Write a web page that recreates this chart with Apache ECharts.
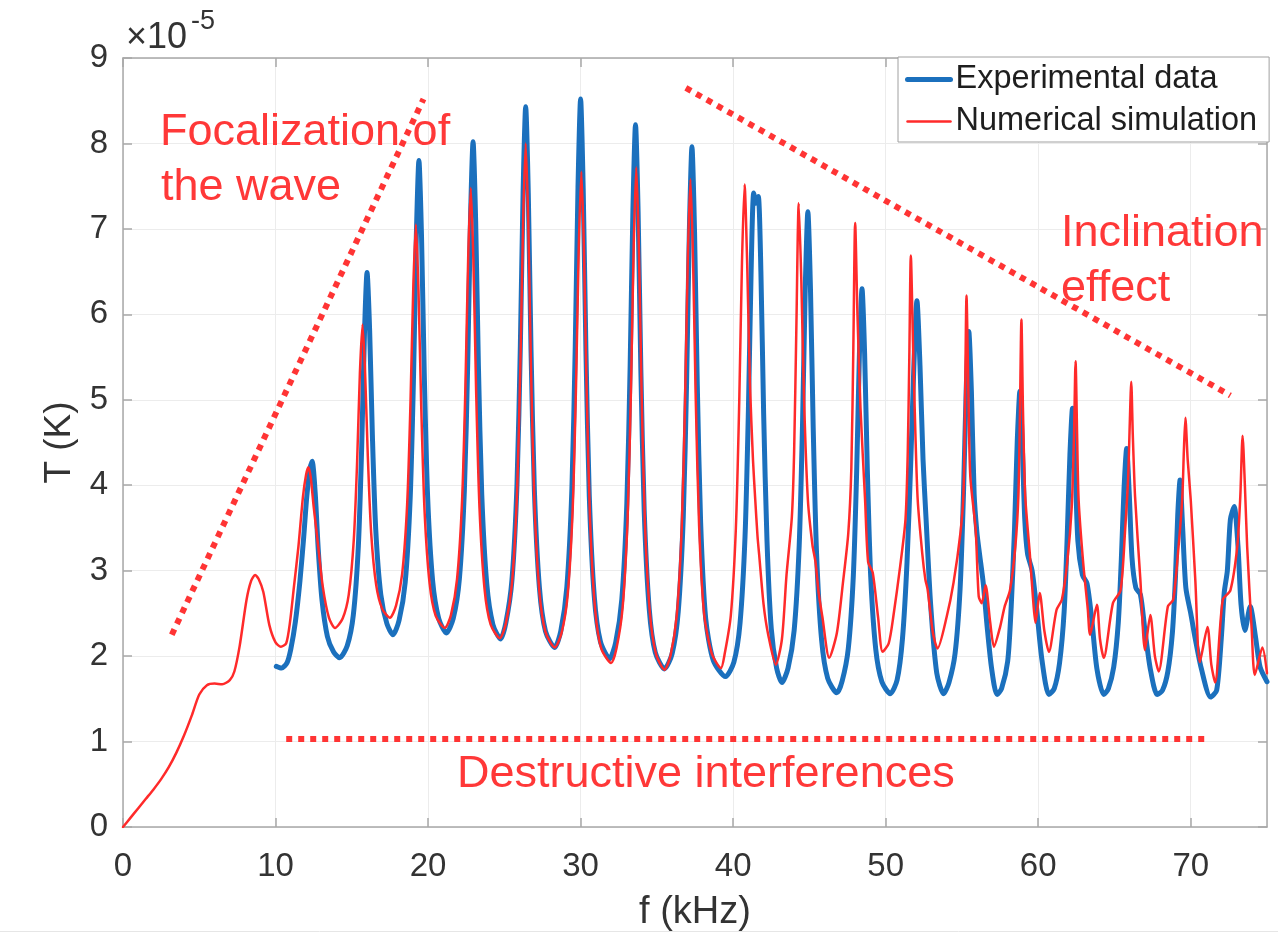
<!DOCTYPE html>
<html>
<head>
<meta charset="utf-8">
<script src="https://cdn.jsdelivr.net/npm/echarts@6/dist/echarts.min.js"></script>
<style>
html,body{margin:0;padding:0;background:#fff;}
#chart{width:1278px;height:933px;}
</style>
</head>
<body>
<div id="chart"></div>
<script>
// ---- Data (f in kHz, T in 1e-5 K) ----
const seriesNames = ['Experimental data', 'Numerical simulation'];

const experimentalData = [
[10.05,1.88],[10.4,1.86],[10.75,1.92],[11,2.08],[11.3,2.4],[11.6,2.88],[11.85,3.4],[12.05,3.87],[12.25,4.18],[12.4,4.28],[12.6,3.91],[12.8,3.25],[13.05,2.65],[13.4,2.23],[13.8,2.05],[14.2,1.98],
[14.7,2.12],[15.1,2.48],[15.43,3.29],[15.65,4.46],[15.83,5.77],[16,6.49],[16.17,5.81],[16.35,4.58],[16.57,3.48],[16.9,2.72],[17.3,2.38],[17.7,2.25],
[18.1,2.42],[18.5,2.86],[18.83,3.86],[19.05,5.3],[19.23,6.91],[19.4,7.8],[19.57,6.92],[19.75,5.31],[19.97,3.87],[20.3,2.88],[20.7,2.44],[21.2,2.27],
[21.65,2.44],[22.05,2.9],[22.38,3.94],[22.6,5.43],[22.78,7.1],[22.95,8.02],[23.12,7.09],[23.3,5.4],[23.52,3.89],[23.85,2.84],[24.25,2.37],[24.75,2.2],
[25.1,2.39],[25.5,2.89],[25.83,4.01],[26.05,5.63],[26.23,7.43],[26.4,8.43],[26.57,7.42],[26.75,5.58],[26.97,3.94],[27.3,2.8],[27.7,2.29],[28.3,2.1],
[28.7,2.29],[29.1,2.81],[29.43,3.96],[29.65,5.63],[29.83,7.49],[30,8.52],[30.17,7.47],[30.35,5.57],[30.57,3.87],[30.9,2.69],[31.3,2.17],[31.9,1.97],
[32.3,2.16],[32.7,2.66],[33.03,3.78],[33.25,5.41],[33.43,7.22],[33.6,8.22],[33.77,7.2],[33.95,5.35],[34.17,3.7],[34.5,2.55],[34.9,2.04],[35.5,1.85],
[36,2.03],[36.4,2.52],[36.73,3.62],[36.95,5.21],[37.13,6.98],[37.3,7.96],[37.47,6.97],[37.65,5.17],[37.87,3.56],[38.2,2.44],[38.7,1.95],[39.5,1.76],
[40.05,1.93],[40.45,2.38],[40.78,3.4],[41,4.87],[41.18,6.51],[41.35,7.42],[41.5,7.3],[41.65,7.38],[41.82,6.5],[42,4.84],[42.22,3.35],[42.5,2.32],[42.85,1.86],[43.2,1.69],
[43.6,1.86],[44,2.3],[44.33,3.29],[44.55,4.72],[44.73,6.32],[44.9,7.2],[45.07,6.3],[45.25,4.67],[45.47,3.2],[45.8,2.19],[46.2,1.74],[46.8,1.57],
[47.15,1.71],[47.55,2.09],[47.88,2.94],[48.1,4.17],[48.28,5.54],[48.45,6.3],[48.62,5.54],[48.8,4.17],[49.02,2.93],[49.35,2.08],[49.75,1.7],[50.3,1.56],
[50.75,1.72],[51.1,2.2],[51.4,3.1],[51.65,4.3],[51.85,5.4],[52.05,6.16],[52.25,5.4],[52.45,4.3],[52.65,3.6],[52.95,2.6],[53.35,1.8],[53.8,1.56],
[54.15,1.69],[54.55,2.03],[54.88,2.79],[55.1,3.89],[55.28,5.12],[55.45,5.8],[55.62,5.1],[55.8,3.9],[55.98,3.45],[56.15,3.2],[56.4,2.85],[56.65,2.35],[56.95,1.85],[57.3,1.55],
[57.6,1.62],[58,1.94],[58.23,2.58],[58.45,3.5],[58.63,4.53],[58.8,5.1],[58.97,4.4],[59.12,3.6],[59.3,3.2],[59.6,3.0],[59.9,2.55],[60.25,1.95],[60.7,1.55],
[61.05,1.62],[61.4,1.92],[61.7,2.52],[61.9,3.39],[62.08,4.36],[62.25,4.9],[62.42,4.3],[62.6,3.35],[62.9,2.95],[63.2,2.85],[63.5,2.45],[63.85,1.85],[64.3,1.55],
[64.6,1.62],[64.95,1.87],[65.25,2.39],[65.45,3.13],[65.63,3.97],[65.8,4.43],[65.97,3.9],[66.15,3.15],[66.4,2.8],[66.7,2.72],[67,2.3],[67.35,1.85],[67.8,1.55],
[68.15,1.6],[68.5,1.82],[68.8,2.28],[69,2.93],[69.15,3.66],[69.3,4.06],[69.47,3.5],[69.68,2.8],[70,2.5],[70.3,2.2],[70.7,1.85],[71.3,1.52],
[71.7,1.6],[72,2.2],[72.2,2.75],[72.4,3.0],[72.6,3.6],[72.85,3.75],[73.1,3.28],[73.3,2.6],[73.55,2.3],[73.9,2.58],[74.25,2.22],[74.55,1.87],[75,1.7]
];

const simulationData = [
[0,0],[0.5,0.11],[1,0.22],[1.5,0.33],[2,0.44],[2.5,0.56],[3,0.7],[3.5,0.87],[4,1.07],[4.5,1.3],[5,1.55],[5.5,1.66],[6,1.68],[6.5,1.67],[7,1.72],[7.3,1.82],[7.65,2.12],[8.1,2.66],[8.4,2.88],[8.66,2.95],[8.9,2.9],[9.2,2.75],[9.6,2.36],[10,2.16],[10.35,2.11],
[10.7,2.15],[10.95,2.4],[11.2,2.8],[11.5,3.28],[11.8,3.87],[12,4.12],[12.15,4.21],[12.3,4.1],[12.5,3.75],[12.8,3.28],[13.1,2.81],[13.5,2.45],[13.9,2.33],
[14.4,2.44],[14.8,2.72],[15.13,3.36],[15.35,4.28],[15.53,5.31],[15.7,5.88],[15.87,5.33],[16.05,4.34],[16.27,3.44],[16.6,2.83],[17,2.55],[17.5,2.45],
[17.9,2.59],[18.3,2.96],[18.63,3.78],[18.85,4.98],[19.03,6.31],[19.2,7.05],[19.37,6.29],[19.55,4.93],[19.77,3.7],[20.1,2.85],[20.5,2.47],[21.1,2.33],
[21.5,2.48],[21.9,2.9],[22.23,3.82],[22.45,5.16],[22.63,6.66],[22.8,7.48],[22.97,6.64],[23.15,5.11],[23.37,3.74],[23.7,2.79],[24.1,2.37],[24.7,2.21],
[25.1,2.38],[25.5,2.85],[25.83,3.89],[26.05,5.39],[26.23,7.07],[26.4,8.0],[26.57,7.06],[26.75,5.35],[26.97,3.81],[27.3,2.75],[27.7,2.28],[28.3,2.1],
[28.75,2.27],[29.15,2.71],[29.48,3.72],[29.7,5.16],[29.88,6.78],[30.05,7.67],[30.22,6.75],[30.4,5.08],[30.62,3.59],[30.95,2.55],[31.35,2.09],[32,1.92],
[32.35,2.09],[32.75,2.56],[33.08,3.6],[33.3,5.11],[33.48,6.79],[33.65,7.72],[33.82,6.78],[34,5.07],[34.22,3.55],[34.55,2.49],[34.95,2.02],[35.5,1.84],
[35.9,2.01],[36.3,2.47],[36.63,3.5],[36.85,5.0],[37.03,6.66],[37.2,7.58],[37.37,6.66],[37.55,5.0],[37.77,3.52],[38.1,2.49],[38.6,2.03],[39.2,1.86],
[39.45,2.03],[39.85,2.48],[40.18,3.5],[40.4,4.97],[40.58,6.61],[40.75,7.52],[40.92,6.6],[41.1,5.2],[41.3,4.3],[41.45,3.83],[41.6,3.4],[41.7,3.2],[42,2.6],[42.3,2.25],[42.8,1.9],
[43.2,2.2],[43.5,2.95],[43.85,3.63],[44,4.4],[44.15,5.9],[44.3,7.3],[44.47,6.4],[44.65,5.0],[44.9,3.83],[45.2,3.3],[45.4,3.1],[45.6,2.75],[45.85,2.46],[46.3,1.98],
[46.8,2.27],[47.2,2.86],[47.55,3.44],[47.75,4.2],[47.88,5.6],[48,7.07],[48.15,6.0],[48.35,4.9],[48.65,3.83],[48.85,3.1],[49.15,2.98],[49.5,2.46],[49.8,2.05],
[50.2,2.15],[50.5,2.46],[50.95,3.05],[51.3,3.6],[51.45,4.4],[51.55,5.5],[51.65,6.69],[51.8,5.6],[51.95,4.6],[52.1,3.83],[52.4,3.2],[52.6,2.9],[52.75,2.78],[53.1,2.27],[53.4,2.09],
[54,2.46],[54.45,2.86],[54.9,3.44],[55.1,3.9],[55.2,4.9],[55.3,6.22],[55.42,5.1],[55.55,4.1],[55.9,3.48],[56.1,2.7],[56.3,2.62],[56.55,2.83],[56.85,2.4],[57.1,2.11],
[57.5,2.34],[57.8,2.58],[58.15,2.77],[58.5,3.28],[58.7,3.87],[58.8,4.8],[58.9,5.94],[59,4.9],[59.15,3.87],[59.45,3.2],[59.65,2.7],[59.82,2.39],[60.1,2.74],[60.4,2.3],[60.7,2.05],
[61.2,2.54],[61.55,2.66],[61.9,3.09],[62.2,3.75],[62.35,4.6],[62.45,5.45],[62.55,4.6],[62.65,3.83],[62.95,3.09],[63.25,2.55],[63.4,2.25],[63.85,2.6],[64.05,2.2],[64.3,1.98],
[64.9,2.62],[65.4,2.77],[65.7,3.48],[65.9,4.1],[66,4.7],[66.1,5.21],[66.2,4.6],[66.35,3.87],[66.7,2.89],[67,2.07],[67.35,2.48],[67.65,2.0],[67.9,1.82],
[68.5,2.58],[68.85,2.66],[69.2,3.28],[69.45,3.87],[69.55,4.4],[69.65,4.79],[69.8,4.3],[70,3.83],[70.3,2.89],[70.6,1.93],[71.1,2.34],[71.35,1.9],[71.6,1.69],
[72.1,2.66],[72.6,2.77],[73.05,3.28],[73.25,3.87],[73.4,4.58],[73.55,4.0],[73.7,3.28],[74,2.3],[74.2,1.78],[74.7,2.1],[75,1.8]
];

// annotation guide lines (data coordinates)
const focalizationLine = [[3.2,2.25],[19.7,8.52]];
const inclinationLine  = [[36.9,8.65],[72.6,5.05]];
const destructiveLine  = [[10.7,1.03],[71.0,1.03]];

const xRange = {min:0, max:75, interval:10};
const yRange = {min:0, max:9, interval:1};

// ---- Chart ----
const FONT = '"Liberation Sans", Arial, Helvetica, sans-serif';
const AXIS_COLOR = '#a8a8a8';
const BLUE = '#1b70bd';
const RED = '#ff2a2a';
const chart = echarts.init(document.getElementById('chart'), null, {renderer:'canvas'});

const dotted = {color:'#ff3434', width:6, type:[6,6], cap:'butt'};
function guide(data){
  return {type:'line', data:data, symbol:'none', silent:true, z:6,
          lineStyle:dotted, animation:false, tooltip:{show:false}};
}
const hiddenSymbol = {color:'rgba(0,0,0,0)', borderColor:'rgba(0,0,0,0)', borderWidth:0};

const option = {
  animation:false,
  backgroundColor:'#ffffff',
  textStyle:{fontFamily:FONT},
  grid:{left:123, right:11, top:58, bottom:106, containLabel:false, outerBoundsMode:'none'},
  legend:{
    data:[
      {name:seriesNames[0], itemStyle:hiddenSymbol, lineStyle:{color:BLUE, width:5}},
      {name:seriesNames[1], itemStyle:hiddenSymbol, lineStyle:{color:RED, width:2.5}}
    ],
    orient:'vertical', left:898, top:57,
    itemWidth:43, itemHeight:14, itemGap:9,
    padding:[6,12,4,7],
    backgroundColor:'#ffffff', borderColor:'#a0a0a0', borderWidth:1, borderRadius:0,
    textStyle:{fontSize:32.5, color:'#1e1e1e', fontFamily:FONT},
    selectedMode:false
  },
  xAxis:[{
    type:'value', min:xRange.min, max:xRange.max, interval:xRange.interval,
    position:'bottom',
    name:'f (kHz)', nameLocation:'middle', nameGap:67,
    nameTextStyle:{fontSize:38, color:'#333333', fontFamily:FONT},
    axisLine:{show:true, onZero:false, lineStyle:{color:AXIS_COLOR, width:1.5}},
    axisTick:{show:true, inside:true, length:9, lineStyle:{color:AXIS_COLOR, width:1.5}},
    axisLabel:{fontSize:33, color:'#333333', margin:23, showMaxLabel:false, fontFamily:FONT},
    splitLine:{show:true, lineStyle:{color:'#ececec', width:1}}
  },{
    type:'value', min:xRange.min, max:xRange.max, interval:xRange.interval,
    position:'top',
    axisLine:{show:true, onZero:false, lineStyle:{color:AXIS_COLOR, width:1.5}},
    axisTick:{show:true, inside:true, length:9, lineStyle:{color:AXIS_COLOR, width:1.5}},
    axisLabel:{show:false}, splitLine:{show:false}
  }],
  yAxis:[{
    type:'value', min:yRange.min, max:yRange.max, interval:yRange.interval,
    position:'left',
    name:'T (K)', nameLocation:'middle', nameGap:35, nameRotate:90,
    nameTextStyle:{fontSize:37, color:'#333333', fontFamily:FONT},
    axisLine:{show:true, onZero:false, lineStyle:{color:AXIS_COLOR, width:1.5}},
    axisTick:{show:true, inside:true, length:9, lineStyle:{color:AXIS_COLOR, width:1.5}},
    axisLabel:{fontSize:33, color:'#333333', margin:15, padding:[7,0,0,0], fontFamily:FONT},
    splitLine:{show:true, lineStyle:{color:'#ececec', width:1}}
  },{
    type:'value', min:yRange.min, max:yRange.max, interval:yRange.interval,
    position:'right',
    axisLine:{show:true, onZero:false, lineStyle:{color:AXIS_COLOR, width:1.5}},
    axisTick:{show:true, inside:true, length:9, lineStyle:{color:AXIS_COLOR, width:1.5}},
    axisLabel:{show:false}, splitLine:{show:false}
  }],
  series:[
    guide(destructiveLine),
    {
      name:seriesNames[0], type:'line', data:experimentalData,
      symbol:'none', smooth:0.25, z:3,
      itemStyle:{color:BLUE},
      lineStyle:{color:BLUE, width:5, join:'round', cap:'round'}
    },
    {
      name:seriesNames[1], type:'line', data:simulationData,
      symbol:'none', smooth:0.25, z:4,
      itemStyle:{color:RED},
      lineStyle:{color:RED, width:2.5, join:'round', cap:'round'}
    },
    guide(focalizationLine),
    guide(inclinationLine)
  ],
  graphic:[
    {type:'text', z:10, style:{x:126, y:38, text:'\u00d710', fontSize:36, fontFamily:FONT, fill:'#333333', verticalAlign:'middle'}},
    {type:'text', z:10, style:{x:191, y:22, text:'-5', fontSize:27, fontFamily:FONT, fill:'#333333', verticalAlign:'middle'}},
    {type:'text', z:5, style:{x:160, y:133, text:'Focalization of', fontSize:45, fontFamily:FONT, fill:'#ff3838', verticalAlign:'middle'}},
    {type:'text', z:5, style:{x:161, y:188, text:'the wave', fontSize:45, fontFamily:FONT, fill:'#ff3838', verticalAlign:'middle'}},
    {type:'text', z:5, style:{x:1061, y:234, text:'Inclination', fontSize:45, fontFamily:FONT, fill:'#ff3838', verticalAlign:'middle'}},
    {type:'text', z:5, style:{x:1061, y:289, text:'effect', fontSize:45, fontFamily:FONT, fill:'#ff3838', verticalAlign:'middle'}},
    {type:'text', z:5, style:{x:457, y:775, text:'Destructive interferences', fontSize:45, fontFamily:FONT, fill:'#ff3838', verticalAlign:'middle'}},
    {type:'line', z:1, shape:{x1:0, y1:931.5, x2:1278, y2:931.5}, style:{stroke:'#e6e6e6', lineWidth:1}}
  ]
};
chart.setOption(option);
</script>
</body>
</html>
